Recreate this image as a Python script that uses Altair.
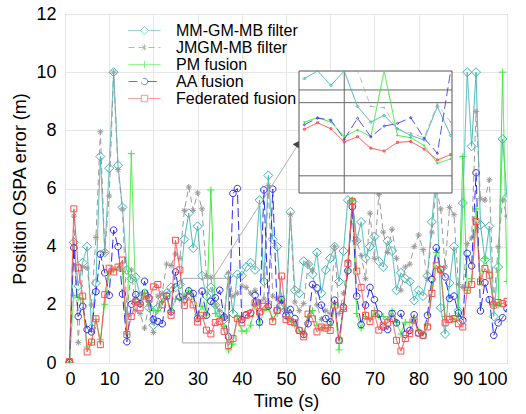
import altair as alt
import pandas as pd

# ---------------- data ----------------
time_s = list(range(1, 101))

mm_gm_mb = [0.02, 4.15, 2.65, 3.45, 4.0, 1.2, 2.75, 7.1, 3.8, 6.7,
            10.0, 6.8, 5.35, 3.2, 2.9, 2.95, 2.3, 2.4, 1.9, 1.3,
            1.9, 2.2, 2.4, 2.6, 2.6, 2.7, 4.25, 5.15, 3.95, 4.7,
            3.0, 2.3, 2.6, 2.0, 1.7, 1.5, 3.0, 1.7, 3.05, 3.0,
            3.3, 3.45, 3.2, 5.6, 2.8, 6.45, 4.25, 4.0, 2.0, 1.8,
            5.2, 2.5, 2.4, 3.5, 3.4, 3.05, 3.8, 2.4, 3.2, 3.6,
            4.0, 2.8, 3.85, 5.6, 5.55, 4.2, 4.85, 3.6, 4.0, 4.35,
            3.5, 3.3, 4.2, 3.85, 2.5, 3.1, 2.9, 2.8, 2.15, 2.5,
            2.3, 3.0, 4.85, 6.5, 1.9, 1.0, 2.75, 4.0, 1.8, 5.5,
            10.0, 7.45, 10.0, 4.75, 3.55, 4.7, 1.6, 3.3, 7.7, 5.7]

jmgm_mb = [0.02, 5.05, 0.7, 3.3, 3.27, 2.0, 4.32, 7.95, 3.8, 5.74,
           10.0, 6.65, 5.3, 1.7, 3.2, 1.8, 1.7, 1.2, 2.0, 1.05,
           2.3, 2.4, 3.4, 3.35, 3.75, 3.6, 5.25, 6.05, 5.25, 5.85,
           5.3, 3.0, 2.95, 2.0, 1.8, 1.6, 3.1, 2.3, 2.4, 2.65,
           2.6, 2.4, 2.5, 2.1, 2.2, 6.1, 2.3, 2.2, 2.1, 1.8,
           5.1, 2.1, 1.8, 2.05, 3.4, 3.2, 2.0, 1.5, 1.8, 1.7,
           4.0, 1.7, 2.4, 3.5, 5.6, 4.2, 3.7, 2.9, 5.15, 3.6,
           5.8, 4.5, 3.8, 4.6, 3.6, 2.5, 3.3, 3.4, 4.0, 4.4,
           3.9, 2.9, 4.5, 6.0, 5.3, 3.3, 5.35, 5.1, 2.7, 2.6,
           4.1, 4.3, 8.65, 5.65, 5.6, 6.3, 2.0, 4.0, 5.6, 5.05]

pm_fusion = [0.02, 2.33, 2.25, 2.2, 0.55, 0.7, 1.5, 0.8, 2.02, 3.1,
             3.2, 3.3, 3.15, 1.0, 7.2, 2.1, 2.1, 2.4, 2.1, 1.8,
             1.8, 2.1, 2.3, 1.8, 2.2, 2.2, 2.3, 2.5, 2.3, 1.65,
             1.95, 1.65, 5.95, 1.7, 1.6, 1.25, 0.45, 0.65, 1.6, 1.1,
             1.1, 1.3, 2.0, 1.3, 1.8, 1.9, 1.5, 1.7, 2.3, 1.6,
             1.5, 1.3, 1.1, 1.0, 1.6, 1.8, 1.3, 1.2, 1.2, 1.3,
             2.0, 0.45, 1.9, 3.2, 5.6, 1.7, 1.2, 1.6, 1.5, 1.8,
             1.6, 1.6, 1.5, 1.8, 1.4, 1.0, 1.4, 1.4, 1.5, 1.1,
             1.0, 1.3, 2.5, 3.8, 3.2, 1.6, 1.6, 1.5, 1.6, 7.1,
             2.5, 2.9, 5.3, 2.8, 3.6, 3.1, 2.0, 2.0, 10.0, 2.8]

aa_fusion = [0.02, 3.96, 1.6, 1.95, 1.15, 1.07, 2.45, 3.74, 3.1, 2.33,
             4.57, 4.0, 2.37, 0.73, 2.02, 2.35, 2.04, 2.81, 2.24, 1.5,
             1.43, 1.35, 2.3, 1.76, 3.13, 2.27, 2.18, 2.48, 2.39, 1.53,
             2.47, 1.64, 2.12, 2.24, 2.5, 1.58, 0.9, 5.83, 6.0, 1.49,
             1.66, 1.72, 2.33, 1.41, 5.95, 1.95, 5.98, 1.81, 2.18, 1.64,
             1.84, 1.53, 1.12, 0.98, 1.35, 2.7, 2.58, 1.99, 1.53, 1.41,
             2.16, 0.78, 1.93, 3.17, 5.37, 2.3, 1.32, 1.99, 2.6, 2.18,
             1.68, 1.24, 1.15, 1.7, 1.38, 1.7, 0.98, 1.12, 1.66, 1.03,
             0.95, 1.64, 2.88, 3.96, 3.21, 2.96, 2.22, 2.3, 1.72, 1.47,
             3.77, 3.34, 6.54, 1.79, 2.76, 2.18, 0.95, 1.38, 1.56, 1.87]

federated = [0.05, 5.3, 3.27, 2.3, 0.38, 0.72, 1.52, 0.63, 2.35, 3.26,
             3.13, 3.3, 3.54, 0.98, 1.6, 2.1, 1.9, 2.3, 2.2, 2.62,
             2.7, 2.0, 2.3, 1.64, 4.22, 3.2, 1.98, 2.27, 2.0, 1.41,
             1.64, 1.13, 1.0, 1.39, 1.43, 1.09, 0.6, 0.84, 1.52, 1.38,
             1.64, 1.7, 2.07, 1.76, 1.95, 2.02, 1.43, 1.81, 2.99, 1.49,
             1.43, 1.38, 1.12, 0.9, 1.68, 1.52, 1.07, 1.24, 1.2, 1.12,
             1.99, 0.78, 1.87, 3.42, 5.55, 3.16, 2.6, 1.64, 1.43, 1.7,
             1.13, 1.3, 1.38, 1.53, 0.78, 0.41, 0.84, 1.01, 1.47, 1.03,
             0.95, 1.24, 2.39, 3.36, 3.21, 1.38, 1.5, 1.53, 1.35, 1.24,
             2.5, 2.7, 4.86, 2.79, 3.25, 3.02, 1.99, 2.08, 2.04, 2.12]

series_names = ["MM-GM-MB filter", "JMGM-MB filter", "PM fusion",
                "AA fusion", "Federated fusion"]
series_values = [mm_gm_mb, jmgm_mb, pm_fusion, aa_fusion, federated]

x_ticks = [0, 10, 20, 30, 40, 50, 60, 70, 80, 90, 100]
y_ticks = [0, 2, 4, 6, 8, 10, 12]

# zoom annotation (data coordinates)
zoom_box_t = [26.6, 37.0]
zoom_box_v = [0.69, 2.91]
arrow_t = [33.6, 52.9]
arrow_v = [2.95, 7.55]
inset_t_domain = [26.6, 38.1]
inset_v_domain = [-0.88, 4.59]
inset_t_keep = [27, 38]
inset_vgrid = [30]
inset_hgrid = [3.74, 3.17, -0.11]

# ---------------- styles ----------------
series_colors = ["#3db5b5", "#9a9a9a", "#3ee83e", "#2b2bf0", "#ff4d4d"]
series_dashes = [[1, 0], [6, 4], [1, 0], [9, 4], [1, 0]]
marker_paths = [
    "M0,-0.9L0.9,0L0,0.9L-0.9,0Z",
    "M-0.6,0H0.6M0,-0.6V0.6M-0.42,-0.42L0.42,0.42M-0.42,0.42L0.42,-0.42",
    "M-0.7,0H0.7M0,-0.7V0.7",
    "M0.65,0A0.65,0.65 0 1,1 -0.65,0A0.65,0.65 0 1,1 0.65,0Z",
    "M-0.6,-0.6H0.6V0.6H-0.6Z",
]
legend_paths = [
    "M-2,0H-0.5M0.5,0H2M0,-0.5L0.5,0L0,0.5L-0.5,0Z",
    "M-2,0H2M0,-0.4V0.4M-0.3,-0.3L0.3,0.3M-0.3,0.3L0.3,-0.3",
    "M-2,0H2M0,-0.45V0.45",
    "M-2,0H-0.4M0.4,0H2M0.4,0A0.4,0.4 0 1,1 -0.4,0A0.4,0.4 0 1,1 0.4,0Z",
    "M-2,0H-0.4M0.4,0H2M-0.4,-0.4H0.4V0.4H-0.4Z",
]

FONT = "Liberation Sans"

rows = []
for name, vals in zip(series_names, series_values):
    for t, v in zip(time_s, vals):
        rows.append({"t": t, "v": v, "series": name})
df = pd.DataFrame(rows)

color_main = alt.Color("series:N", scale=alt.Scale(domain=series_names, range=series_colors), legend=None)
dash_main = alt.StrokeDash("series:N", scale=alt.Scale(domain=series_names, range=series_dashes), legend=None)
shape_main = alt.Shape("series:N", scale=alt.Scale(domain=series_names, range=marker_paths), legend=None)

x_main = alt.X("t:Q", scale=alt.Scale(domain=[0, 100], nice=False, zero=False),
               axis=alt.Axis(values=x_ticks, title="Time (s)", grid=True, ticks=False,
                             domain=False, labelPadding=7, titlePadding=4))
y_main = alt.Y("v:Q", scale=alt.Scale(domain=[0, 12], nice=False),
               axis=alt.Axis(values=y_ticks, title="Position OSPA error (m)", grid=True,
                             ticks=False, domain=False, labelPadding=9, titlePadding=6))

main_layers = []
for name in series_names:
    sub = alt.Chart(df).transform_filter(alt.datum.series == name)
    main_layers.append(sub.mark_line(strokeWidth=1, clip=True).encode(
        x=x_main, y=y_main, color=color_main, strokeDash=dash_main))
    main_layers.append(sub.mark_point(filled=False, size=100, strokeWidth=1, opacity=1, clip=True).encode(
        x="t:Q", y="v:Q", color=color_main, shape=shape_main))

box_df = pd.DataFrame({"t1": [zoom_box_t[0]], "t2": [zoom_box_t[1]],
                       "v1": [zoom_box_v[0]], "v2": [zoom_box_v[1]]})
zoom_rect = alt.Chart(box_df).mark_rect(fill=None, stroke="#aaaaaa", strokeWidth=1).encode(
    x="t1:Q", x2="t2", y="v1:Q", y2="v2")
arrow_df = pd.DataFrame({"t1": [arrow_t[0]], "t2": [arrow_t[1]],
                         "v1": [arrow_v[0]], "v2": [arrow_v[1]]})
arrow_line = alt.Chart(arrow_df).mark_rule(stroke="#b0b0b0", strokeWidth=1).encode(
    x="t1:Q", x2="t2", y="v1:Q", y2="v2")
arrow_head = alt.Chart(arrow_df).mark_point(shape="triangle-up", filled=True, color="#444444",
                                            size=90, angle=33, opacity=1).encode(x="t2:Q", y="v2:Q")

main = alt.layer(*main_layers, zoom_rect, arrow_line, arrow_head)

# ---------------- inset ----------------
x_in = alt.X("t:Q", scale=alt.Scale(domain=inset_t_domain, range=[234, 387], nice=False, zero=False), axis=None)
y_in = alt.Y("v:Q", scale=alt.Scale(domain=inset_v_domain, range=[179, 57], nice=False, zero=False, clamp=True), axis=None)

frame_df = pd.DataFrame({"t1": [inset_t_domain[0]], "t2": [inset_t_domain[1]],
                         "v1": [inset_v_domain[0]], "v2": [inset_v_domain[1]]})
inset_bg = alt.Chart(frame_df).mark_rect(fill="white", stroke="#555555", strokeWidth=1).encode(
    x=alt.X("t1:Q", scale=alt.Scale(domain=inset_t_domain, range=[234, 387], nice=False, zero=False), axis=None),
    x2="t2",
    y=alt.Y("v1:Q", scale=alt.Scale(domain=inset_v_domain, range=[179, 57], nice=False, zero=False), axis=None),
    y2="v2")
vgrid_df = pd.DataFrame({"t": inset_vgrid, "v1": [inset_v_domain[0]], "v2": [inset_v_domain[1]]})
inset_vlines = alt.Chart(vgrid_df).mark_rule(color="#666666", strokeWidth=1).encode(
    x="t:Q", y="v1:Q", y2="v2")
hgrid_df = pd.DataFrame({"v": inset_hgrid, "t1": [inset_t_domain[0]] * 3, "t2": [inset_t_domain[1]] * 3})
inset_hlines = alt.Chart(hgrid_df).mark_rule(color="#666666", strokeWidth=1).encode(
    y="v:Q", x="t1:Q", x2="t2")

inset_layers = [inset_bg, inset_vlines, inset_hlines]
inset_opacity = [1, 0.6, 1, 0.8, 1]
for name, op in zip(series_names, inset_opacity):
    sub = alt.Chart(df).transform_filter(
        (alt.datum.series == name) & (alt.datum.t >= inset_t_keep[0]) & (alt.datum.t <= inset_t_keep[1]))
    inset_layers.append(sub.mark_line(strokeWidth=1, opacity=op).encode(
        x="t:Q", y="v:Q", color=color_main, strokeDash=dash_main))
    inset_layers.append(sub.transform_filter(alt.datum.v <= inset_v_domain[1]).mark_point(
        filled=False, size=10, strokeWidth=1, opacity=op).encode(
        x="t:Q", y="v:Q", color=color_main, shape=shape_main))
inset = alt.layer(*inset_layers).encode(x=x_in, y=y_in)

# ---------------- legend ----------------
leg = alt.Legend(title=None, orient="none", legendX=71, legendY=8, padding=0,
                 labelFont=FONT, labelFontSize=16, labelColor="black",
                 symbolSize=256, symbolStrokeWidth=1, labelOffset=23, rowPadding=-1)
legend_layer = alt.Chart(df).transform_filter("false").mark_point(filled=False, strokeWidth=1).encode(
    color=alt.Color("series:N", scale=alt.Scale(domain=series_names, range=series_colors), legend=leg),
    shape=alt.Shape("series:N", scale=alt.Scale(domain=series_names, range=legend_paths), legend=leg),
    strokeDash=alt.StrokeDash("series:N", scale=alt.Scale(domain=series_names, range=series_dashes), legend=leg),
)

chart = alt.layer(main, inset, legend_layer).resolve_scale(
    x="independent", y="independent", color="independent",
    shape="independent", strokeDash="independent"
).properties(
    width=442, height=349,
    autosize=alt.AutoSizeParams(type="none"),
    padding={"left": 65, "top": 14, "right": 19, "bottom": 51},
    background="white",
).configure_view(
    stroke="#888888", strokeWidth=1
).configure_axis(
    labelFont=FONT, labelFontSize=18, labelColor="black",
    titleFont=FONT, titleFontSize=18, titleColor="black", titleFontWeight="normal",
    gridColor="#e6e6e6", gridWidth=1,
)

chart.save("out.html", embed_options={"renderer": "svg", "actions": False})
